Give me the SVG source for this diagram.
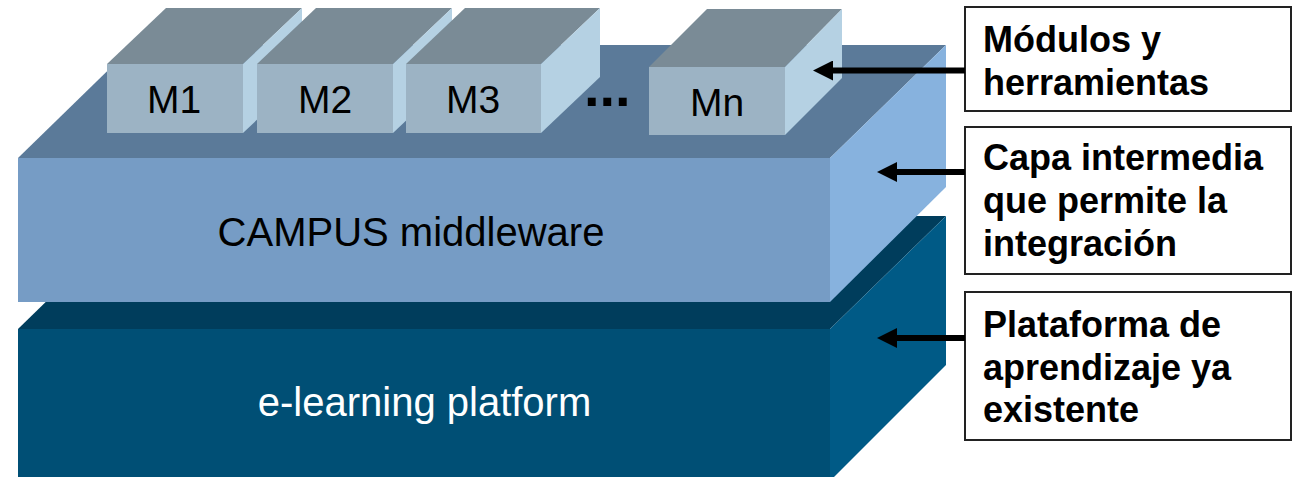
<svg xmlns="http://www.w3.org/2000/svg" width="1293" height="477" viewBox="0 0 1293 477">
  <style>
    .el-top { fill: #003d5c; }
    .el-front { fill: #004f75; }
    .el-side { fill: #005a86; }
    .mw-top { fill: #5b7a99; }
    .mw-front { fill: #769cc5; }
    .mw-side { fill: #87b2de; }
    .mod-top { fill: #7a8b96; }
    .mod-front { fill: #9cb3c4; }
    .mod-side { fill: #b5d1e3; }
    .layer-label { font-family: "Liberation Sans", Arial, sans-serif; font-size: 40px; text-anchor: middle; }
    .mod-label { font-family: "Liberation Sans", Arial, sans-serif; font-size: 39px; fill: #000; text-anchor: middle; }
    .note-box { fill: #fff; stroke: #222; stroke-width: 2; }
    .note-text { font-family: "Liberation Sans", Arial, sans-serif; font-size: 36px; font-weight: bold; fill: #000; }
    .pointer { stroke: #000; stroke-width: 6; fill: none; marker-end: url(#head); }
  </style>
  <defs>
    <marker id="head" markerUnits="userSpaceOnUse" markerWidth="20" markerHeight="20" refX="0" refY="10" orient="auto">
      <path d="M0,0 L20,10 L0,20 Z" fill="#000"/>
    </marker>
  </defs>

  <!-- bottom slab: e-learning platform -->
  <g id="elearning">
    <polygon class="el-top" points="18,329 134,216 946,216 830,329"/>
    <polygon class="el-side" points="830,329 946,216 946,365 830,481"/>
    <rect class="el-front" x="18" y="329" width="812" height="152"/>
    <text class="layer-label" x="424.5" y="416" fill="#fff">e-learning platform</text>
  </g>

  <!-- middle slab: CAMPUS middleware -->
  <g id="middleware">
    <polygon class="mw-top" points="18,158 134,45 946,45 830,158"/>
    <polygon class="mw-side" points="830,158 946,45 946,187 830,302"/>
    <rect class="mw-front" x="18" y="158" width="812" height="144"/>
    <text class="layer-label" x="411" y="246" fill="#000">CAMPUS middleware</text>
  </g>

  <!-- modules on top of the middleware -->
  <g id="m1">
    <polygon class="mod-top" points="107,64 166,8 302,8 243,64"/>
    <polygon class="mod-side" points="243,64 302,8 302,77 243,133"/>
    <rect class="mod-front" x="107" y="64" width="136" height="69"/>
    <text class="mod-label" x="174" y="113">M1</text>
  </g>
  <g id="m2">
    <polygon class="mod-top" points="257,64 316,8 452,8 393,64"/>
    <polygon class="mod-side" points="393,64 452,8 452,77 393,133"/>
    <rect class="mod-front" x="257" y="64" width="136" height="69"/>
    <text class="mod-label" x="325" y="113">M2</text>
  </g>
  <g id="m3">
    <polygon class="mod-top" points="406,64 465,8 600,8 541,64"/>
    <polygon class="mod-side" points="541,64 600,8 600,77 541,133"/>
    <rect class="mod-front" x="406" y="64" width="135" height="69"/>
    <text class="mod-label" x="473" y="113">M3</text>
  </g>
  <g id="ellipsis">
    <text x="584" y="106" font-family="Liberation Sans, Arial, sans-serif" font-size="56" font-weight="bold" fill="#000">...</text>
  </g>
  <g id="mn">
    <polygon class="mod-top" points="649,67 707,9 842,9 785,67"/>
    <polygon class="mod-side" points="785,67 842,9 842,78 785,135"/>
    <rect class="mod-front" x="649" y="67" width="136" height="68"/>
    <text class="mod-label" x="717" y="116">Mn</text>
  </g>

  <!-- explanatory notes -->
  <g id="note-modules">
    <rect class="note-box" x="965" y="7" width="326" height="104"/>
    <text class="note-text" x="983" y="52">Módulos y</text>
    <text class="note-text" x="983" y="95">herramientas</text>
  </g>
  <g id="note-middleware">
    <rect class="note-box" x="965" y="127" width="326" height="147"/>
    <text class="note-text" x="983" y="170">Capa intermedia</text>
    <text class="note-text" x="983" y="213">que permite la</text>
    <text class="note-text" x="983" y="256">integración</text>
  </g>
  <g id="note-platform">
    <rect class="note-box" x="965" y="292" width="326" height="148"/>
    <text class="note-text" x="983" y="337">Plataforma de</text>
    <text class="note-text" x="983" y="380">aprendizaje ya</text>
    <text class="note-text" x="983" y="422">existente</text>
  </g>

  <!-- connectors from notes to layers -->
  <g id="connectors">
    <line class="pointer" x1="965" y1="70.5" x2="833" y2="70.5"/>
    <line class="pointer" x1="965" y1="172" x2="897" y2="172"/>
    <line class="pointer" x1="965" y1="338" x2="897" y2="338"/>
  </g>
</svg>
